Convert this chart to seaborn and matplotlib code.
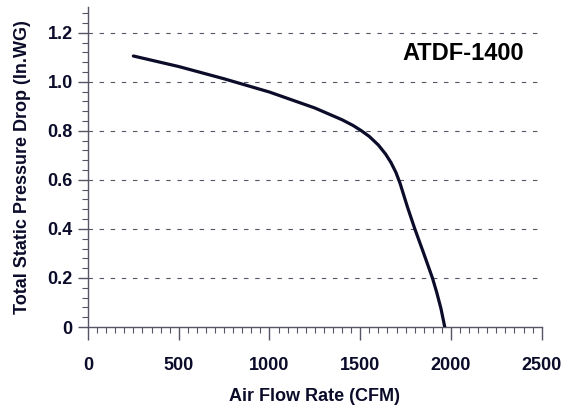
import matplotlib
matplotlib.use("Agg")
import matplotlib.pyplot as plt
import seaborn as sns
import pandas as pd
from matplotlib.ticker import MultipleLocator, FuncFormatter

# fan curve
air_flow = [250, 500, 750, 1000, 1250, 1400, 1460, 1507, 1550, 1600, 1640, 1670,
            1697, 1720, 1760, 1801, 1850, 1898, 1922, 1945, 1966]
pressure = [1.105, 1.062, 1.012, 0.958, 0.893, 0.845, 0.822, 0.80, 0.777, 0.742, 0.705,
            0.67, 0.63, 0.585, 0.49, 0.40, 0.30, 0.20, 0.14, 0.075, 0.0]
model_name = "ATDF-1400"
x_label = "Air Flow Rate (CFM)"
y_label = "Total Static Pressure Drop (In.WG)"
grid_levels = [0.2, 0.4, 0.6, 0.8, 1.0, 1.2]

sns.set_style("white")
plt.rcParams['font.family'] = ['Liberation Sans', 'DejaVu Sans']
plt.rcParams['font.weight'] = 'bold'

df = pd.DataFrame({"flow": air_flow, "pressure": pressure})

fig = plt.figure(figsize=(5.74, 4.08), dpi=100)
ax = fig.add_axes([0.1533, 0.1985, 0.7904, 0.7845])

for g in grid_levels:
    ax.axhline(g, color="#555566", lw=0.8, dashes=(4, 6), zorder=1)

sns.lineplot(data=df, x="flow", y="pressure", sort=False, color="#0b0b2a",
             lw=2.3, ax=ax, zorder=3)

ax.set_xlim(0, 2500)
ax.set_ylim(0, 1.305)
ax.xaxis.set_major_locator(MultipleLocator(500))
ax.xaxis.set_minor_locator(MultipleLocator(50))
ax.yaxis.set_major_locator(MultipleLocator(0.2))
ax.yaxis.set_minor_locator(MultipleLocator(0.04))
ax.yaxis.set_major_formatter(FuncFormatter(lambda v, p: "0" if abs(v) < 1e-9 else f"{v:.1f}"))

for s in ["top", "right"]:
    ax.spines[s].set_visible(False)
for s in ["left", "bottom"]:
    ax.spines[s].set_color("#555566")
    ax.spines[s].set_linewidth(1.0)

ax.tick_params(axis="x", which="both", bottom=True)
ax.tick_params(axis="y", which="both", left=True)
ax.tick_params(axis="x", which="major", direction="out", length=9.5, width=1,
               color="#555566", pad=12, labelsize=13, labelcolor="#0b0b2a")
ax.tick_params(axis="x", which="minor", direction="out", length=4.5, width=0.8,
               color="#555566")
ax.tick_params(axis="y", which="major", direction="out", length=7, width=1,
               color="#555566", pad=4, labelsize=13, labelcolor="#0b0b2a")
ax.tick_params(axis="y", which="minor", direction="out", length=4, width=0.8,
               color="#555566")
for lab in ax.get_xticklabels() + ax.get_yticklabels():
    lab.set_fontweight("bold")

ax.set_xlabel(x_label, fontsize=13, fontweight="bold", color="#0b0b2a", labelpad=10)
ax.set_ylabel(y_label, fontsize=13, fontweight="bold", color="#0b0b2a", labelpad=12)

ax.text(2065, 1.114, model_name, ha="center", va="center", fontsize=17,
        fontweight="bold", color="black")

fig.savefig("out.png", dpi=100)
